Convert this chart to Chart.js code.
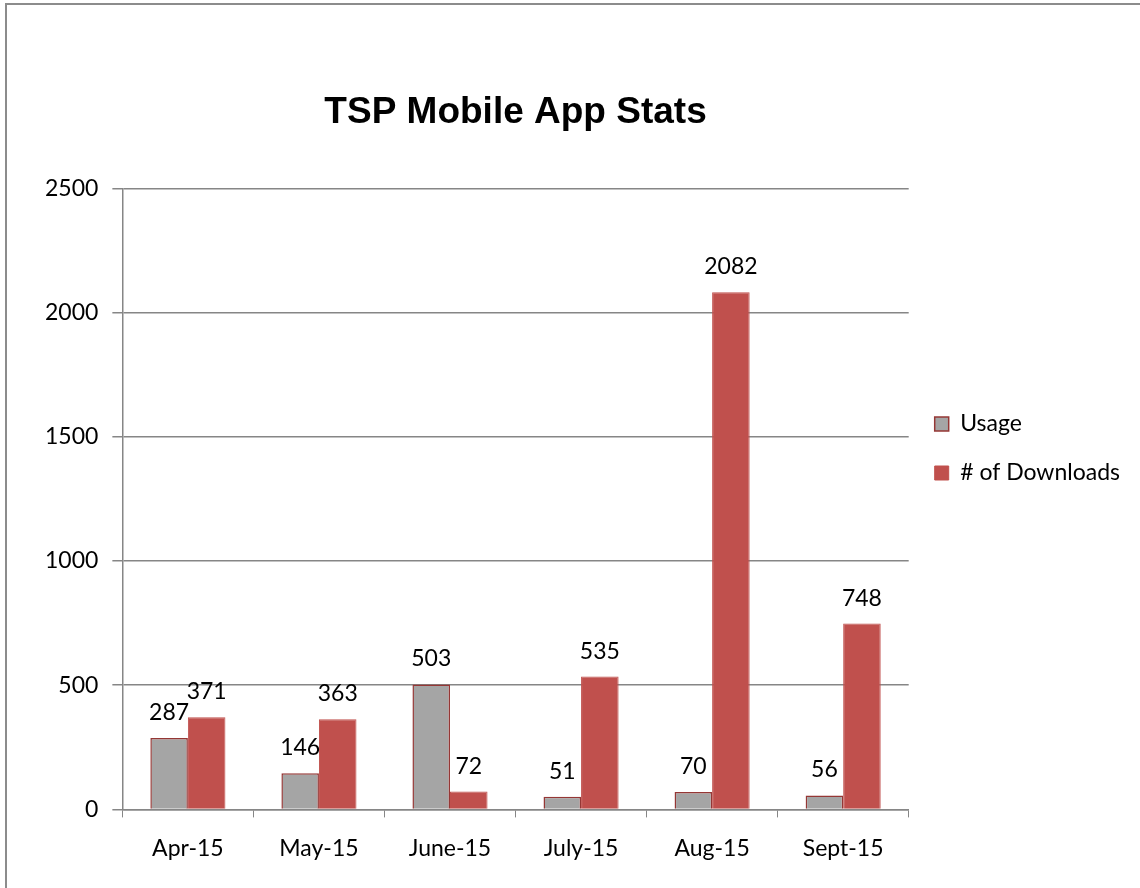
<!DOCTYPE html>
<html>
<head>
<meta charset="utf-8">
<script src="https://cdn.jsdelivr.net/npm/chart.js@4/dist/chart.umd.min.js"></script>
<style>
  html, body { margin: 0; padding: 0; background: #fff; }
  #wrap { position: relative; width: 1140px; height: 888px; }
</style>
</head>
<body>
<div id="wrap"><canvas id="myChart"></canvas></div>
<script>
const months = ['Apr-15', 'May-15', 'June-15', 'July-15', 'Aug-15', 'Sept-15'];
const usage = [287, 146, 503, 51, 70, 56];
const downloads = [371, 363, 72, 535, 2082, 748];
const yTicks = [0, 500, 1000, 1500, 2000, 2500];

const gridGray = '#868686';

// outer frame of the chart (only left and top edges show)
const framePlugin = {
    id: 'frame',
    beforeDraw(chart) {
        const ctx = chart.ctx;
        ctx.save();
        ctx.fillStyle = '#fff';
        ctx.fillRect(0, 0, chart.width, chart.height);
        ctx.strokeStyle = '#8c8c8c';
        ctx.lineWidth = 2;
        ctx.beginPath();
        ctx.moveTo(6, chart.height);
        ctx.lineTo(6, 4);
        ctx.lineTo(chart.width, 4);
        ctx.stroke();
        ctx.restore();
    }
};

// value labels above each bar
const valueLabels = {
    id: 'valueLabels',
    afterDatasetsDraw(chart) {
        const ctx = chart.ctx;
        ctx.save();
        ctx.font = '23px Lato';
        ctx.fillStyle = '#000';
        ctx.textAlign = 'center';
        ctx.textBaseline = 'alphabetic';
        chart.data.datasets.forEach((ds, i) => {
            chart.getDatasetMeta(i).data.forEach((bar, j) => {
                ctx.fillText(ds.data[j], bar.x, bar.y - 18);
            });
        });
        ctx.restore();
    }
};

const data = {
    labels: months,
    datasets: [{
        label: 'Usage',
        data: usage,
        backgroundColor: '#A5A5A5',
        borderColor: '#953735',
        borderWidth: 1.5
    }, {
        label: '# of Downloads',
        data: downloads,
        backgroundColor: '#C0504D',
        borderColor: '#C0504D',
        borderWidth: 1
    }]
};

const config = {
    type: 'bar',
    data: data,
    options: {
        responsive: true,
        maintainAspectRatio: false,
        animation: false,
        layout: {
            padding: { top: 18, bottom: 9, left: 31, right: 10 }
        },
        datasets: {
            bar: {
                barPercentage: 1,
                categoryPercentage: 0.573
            }
        },
        plugins: {
            title: {
                display: true,
                text: 'TSP Mobile App Stats',
                fullSize: false,
                color: '#000',
                font: { family: 'Liberation Sans', size: 37, weight: 'bold' },
                padding: { top: 73, bottom: 53 }
            },
            legend: {
                position: 'right',
                labels: {
                    color: '#000',
                    font: { family: 'Lato', size: 23 },
                    boxWidth: 14,
                    boxHeight: 14,
                    padding: 26
                }
            },
            tooltip: { enabled: false }
        },
        scales: {
            x: {
                grid: {
                    offset: true,
                    drawOnChartArea: false,
                    drawTicks: true,
                    tickLength: 8,
                    color: gridGray
                },
                border: { display: true, color: gridGray, width: 1.5 },
                ticks: {
                    color: '#000',
                    font: { family: 'Lato', size: 23 },
                    padding: 17
                }
            },
            y: {
                min: 0,
                max: 2500,
                afterBuildTicks(axis) {
                    axis.ticks = yTicks.map(v => ({ value: v }));
                },
                grid: {
                    color: gridGray,
                    lineWidth: 1.5,
                    tickLength: 10
                },
                border: { display: true, color: gridGray, width: 1.5 },
                ticks: {
                    color: '#000',
                    font: { family: 'Lato', size: 23 },
                    padding: 14,
                    callback: v => String(v)
                }
            }
        }
    },
    plugins: [framePlugin, valueLabels]
};

const myChart = new Chart(document.getElementById('myChart'), config);
</script>
</body>
</html>
